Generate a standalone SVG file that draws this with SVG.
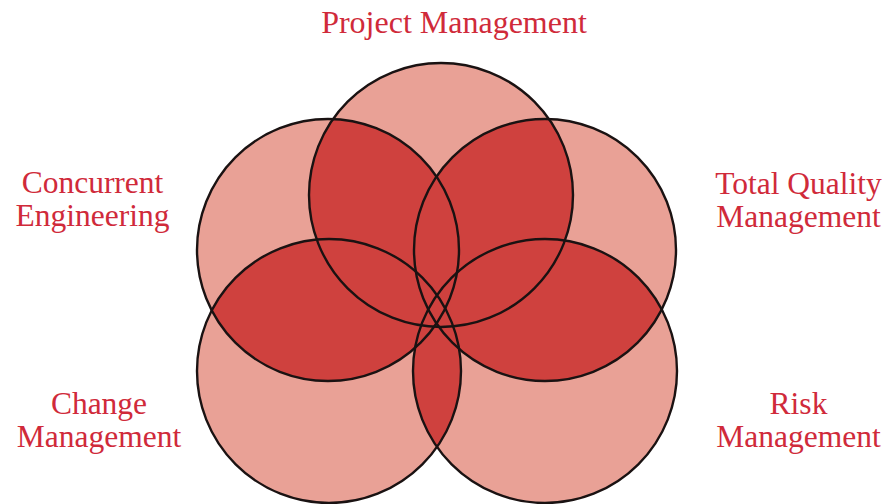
<svg xmlns="http://www.w3.org/2000/svg" xmlns:xlink="http://www.w3.org/1999/xlink" width="886" height="504" viewBox="0 0 886 504">
<style>
.light{fill:#e9a196;}
.dark{fill:#cf413e;}
.ring{fill:none;stroke:#1a1212;stroke-width:2.4;}
.lbl{font-family:"Liberation Serif","Times New Roman",serif;font-size:31.5px;fill:#d02a3a;text-anchor:middle;}
.title{font-size:32px;}
</style>
<defs>
<circle id="cP" cx="441" cy="195" r="132"/>
<circle id="cC" cx="328" cy="250" r="131"/>
<circle id="cT" cx="545" cy="250" r="131"/>
<circle id="cM" cx="329" cy="371" r="132"/>
<circle id="cR" cx="545" cy="371" r="132"/>
<clipPath id="kP"><use xlink:href="#cP"/></clipPath>
<clipPath id="kC"><use xlink:href="#cC"/></clipPath>
<clipPath id="kT"><use xlink:href="#cT"/></clipPath>
<clipPath id="kM"><use xlink:href="#cM"/></clipPath>
</defs>
<rect width="886" height="504" fill="#ffffff"/>
<g id="fills" class="light">
<use xlink:href="#cP"/><use xlink:href="#cC"/><use xlink:href="#cT"/><use xlink:href="#cM"/><use xlink:href="#cR"/>
</g>
<g id="overlaps" class="dark">
<use xlink:href="#cC" clip-path="url(#kP)"/>
<use xlink:href="#cT" clip-path="url(#kP)"/>
<use xlink:href="#cM" clip-path="url(#kP)"/>
<use xlink:href="#cR" clip-path="url(#kP)"/>
<use xlink:href="#cT" clip-path="url(#kC)"/>
<use xlink:href="#cM" clip-path="url(#kC)"/>
<use xlink:href="#cR" clip-path="url(#kC)"/>
<use xlink:href="#cM" clip-path="url(#kT)"/>
<use xlink:href="#cR" clip-path="url(#kT)"/>
<use xlink:href="#cR" clip-path="url(#kM)"/>
</g>
<g id="project-management">
<use xlink:href="#cP" class="ring"/>
<text class="lbl title" x="454" y="33">Project Management</text>
</g>
<g id="concurrent-engineering">
<use xlink:href="#cC" class="ring"/>
<text class="lbl" x="92.5" y="193">Concurrent</text>
<text class="lbl" x="92.5" y="226">Engineering</text>
</g>
<g id="total-quality-management">
<use xlink:href="#cT" class="ring"/>
<text class="lbl" x="798.5" y="194">Total Quality</text>
<text class="lbl" x="798.5" y="227">Management</text>
</g>
<g id="change-management">
<use xlink:href="#cM" class="ring"/>
<text class="lbl" x="99" y="414">Change</text>
<text class="lbl" x="99" y="447">Management</text>
</g>
<g id="risk-management">
<use xlink:href="#cR" class="ring"/>
<text class="lbl" x="798.5" y="414">Risk</text>
<text class="lbl" x="798.5" y="447">Management</text>
</g>
</svg>
